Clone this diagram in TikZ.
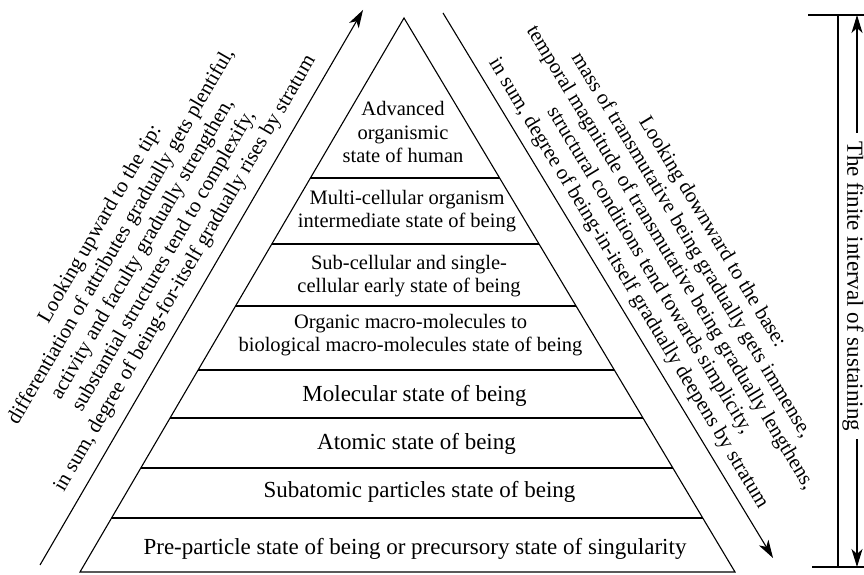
\documentclass[tikz,border=0pt]{standalone}
\usepackage{fontspec}
\setmainfont{Liberation Serif}
\usetikzlibrary{arrows.meta,calc}
\begin{document}
\begin{tikzpicture}[x=1pt,y=1pt,
  edge/.style={line width=1.1pt,line join=miter},
  arr/.style={line width=1.1pt,-{Stealth[length=18pt,width=11pt,inset=5pt]}},
  multi/.style={align=center,inner sep=0pt,font=\fontsize{20.5}{22.5}\selectfont},
  single/.style={anchor=base,inner sep=0pt,font=\fontsize{23}{26}\selectfont},
  side/.style={align=center,inner sep=0pt,font=\fontsize{21}{24.5}\selectfont},
  vert/.style={rotate=-90,inner xsep=8pt,inner ysep=0pt,font=\fontsize{23}{26}\selectfont},
]
\useasboundingbox (0,0) rectangle (864,575);
% pyramid
\coordinate (L) at (80,3);
\coordinate (R) at (735,3);
\coordinate (T) at (404,557);
\draw[edge] (L) -- (T) -- (R) -- cycle;
\foreach \Y in {397,331,269,205,157,107,57}{
  \pgfmathsetmacro\f{(\Y-3)/554}
  \draw[edge] ($(L)!\f!(T)$) -- ($(R)!\f!(T)$);
}
% layer texts
\node[multi] (adv) at (403,443) {Advanced\\[1pt]organismic\\[1pt]state of human};
\node[multi] (mc) at (407,364) {Multi-cellular organism\\intermediate state of being};
\node[multi] (sc) at (409,299) {Sub-cellular and single-\\cellular early state of being};
\node[multi] (om) at (410.5,240) {Organic macro-molecules to\\biological macro-molecules state of being};
\node[single] (mol) at (414.5,173.3) {Molecular state of being};
\node[single] (atm) at (416.5,125) {Atomic state of being};
\node[single] (sub) at (419.5,77) {Subatomic particles state of being};
\node[single] (pre) at (415,20) {Pre-particle state of being or precursory state of singularity};
% left arrow and text
\coordinate (la0) at (40,10);
\coordinate (la1) at (363,565);
\draw[arr] (la0) -- (la1);
\node[side,rotate=59.8] (ltxt) at (143,326) {Looking upward to the tip:\\
differentiation of attributes gradually gets plentiful,\\
activity and faculty gradually strengthen,\\
substantial structures tend to complexify,\\
in sum, degree of being-for-itself gradually rises by stratum};
% right arrow and text
\coordinate (ra0) at (443,562);
\coordinate (ra1) at (773,17);
\draw[arr] (ra0) -- (ra1);
\node[side,rotate=-58.8] (rtxt) at (670,317) {Looking downward to the base:\\
mass of transmutative being gradually gets immense,\\
temporal magnitude of transmutative being gradually lengthens,\\
structural conditions tend towards simplicity,\\
in sum, degree of being-in-itself gradually deepens by stratum};
% right bracket
\coordinate (bt0) at (808,560);
\coordinate (bt1) at (864,560);
\coordinate (bb0) at (812,8);
\coordinate (bb1) at (864,8);
\draw[edge] (bt0) -- (bt1);
\draw[edge] (bb0) -- (bb1);
\draw[edge] (838,560) -- (838,8);
\coordinate (ftop) at (857,560);
\coordinate (fbot) at (857,8);
\node[vert] (fin) at (853,289) {The finite interval of sustaining};
\draw[arr] (fin.west -| ftop) -- (ftop);
\draw[arr] (fin.east -| fbot) -- (fbot);
\end{tikzpicture}
\end{document}
